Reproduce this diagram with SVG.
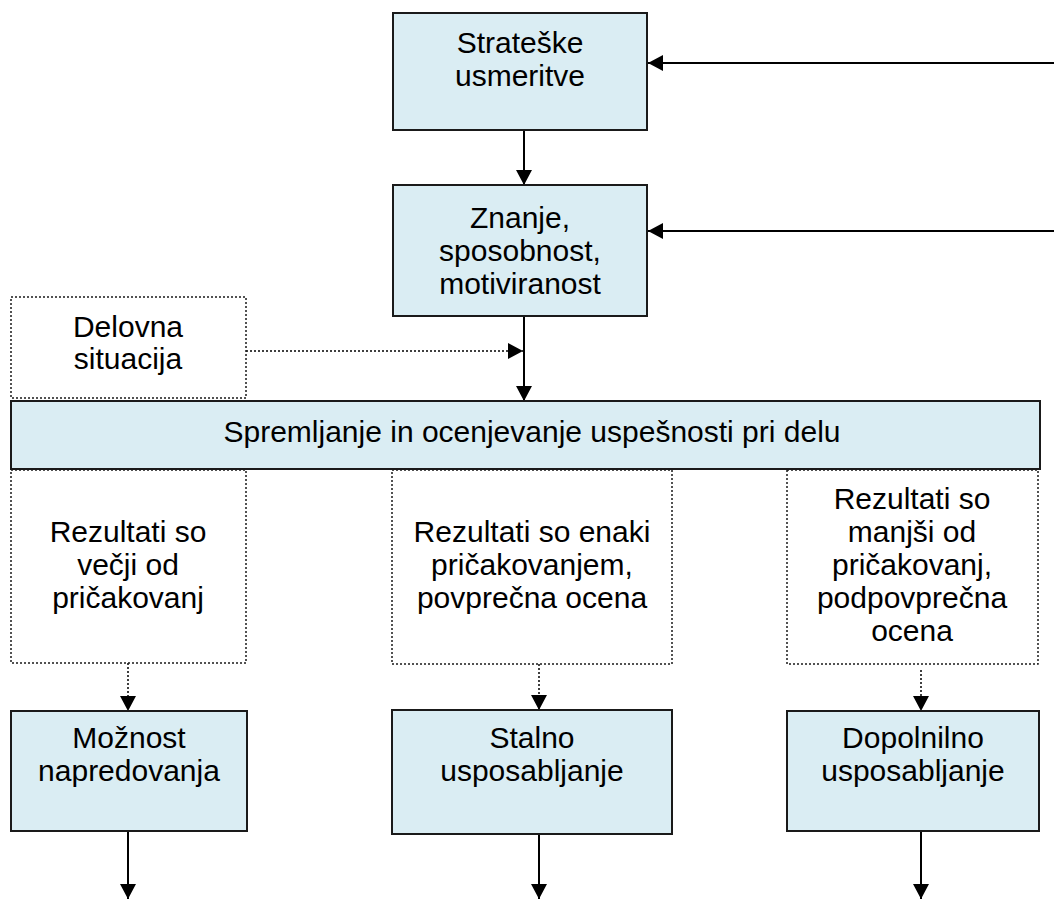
<svg xmlns="http://www.w3.org/2000/svg" width="1054" height="899" viewBox="0 0 1054 899">
<defs>
<marker id="ah" markerUnits="userSpaceOnUse" markerWidth="15" markerHeight="16" refX="15" refY="8" orient="auto">
<path d="M0,0 L15,8 L0,16 z" fill="#000"/>
</marker>
<style>
.box{fill:#daedf3;stroke:#1a1a1a;stroke-width:2}
.dbox{fill:none;stroke:#1a1a1a;stroke-width:1.5;stroke-dasharray:2,2}
.t{font-family:"Liberation Sans",Arial,sans-serif;font-size:30px;fill:#000;text-anchor:middle}
.c{stroke:#000;stroke-width:2;fill:none}
.d{stroke:#000;stroke-width:1.5;fill:none;stroke-dasharray:2,2}
</style>
</defs>
<rect width="1054" height="899" fill="#fff"/>
<g id="connectors">
<line class="c" x1="1054" y1="63" x2="648" y2="63" marker-end="url(#ah)"/>
<line class="c" x1="1054" y1="231" x2="648" y2="231" marker-end="url(#ah)"/>
<line class="c" x1="524" y1="130" x2="524" y2="185" marker-end="url(#ah)"/>
<line class="c" x1="524" y1="316" x2="524" y2="401" marker-end="url(#ah)"/>
<line class="d" x1="246" y1="351" x2="523" y2="351" marker-end="url(#ah)"/>
<line class="d" x1="128" y1="663" x2="128" y2="711" marker-end="url(#ah)"/>
<line class="d" x1="539" y1="664" x2="539" y2="710" marker-end="url(#ah)"/>
<line class="d" x1="921" y1="670" x2="921" y2="711" marker-end="url(#ah)"/>
<line class="c" x1="128" y1="831" x2="128" y2="899" marker-end="url(#ah)"/>
<line class="c" x1="539" y1="834" x2="539" y2="899" marker-end="url(#ah)"/>
<line class="c" x1="921" y1="831" x2="921" y2="899" marker-end="url(#ah)"/>
</g>
<g id="strateske">
<rect class="box" x="393" y="13" width="254" height="117"/>
<text class="t" x="520" y="53">Strateške</text>
<text class="t" x="520" y="86">usmeritve</text>
</g>
<g id="znanje">
<rect class="box" x="393" y="185" width="254" height="131"/>
<text class="t" x="520" y="228">Znanje,</text>
<text class="t" x="520" y="261">sposobnost,</text>
<text class="t" x="520" y="294">motiviranost</text>
</g>
<g id="delovna">
<rect class="dbox" x="11" y="297" width="235" height="101"/>
<text class="t" x="128" y="337">Delovna</text>
<text class="t" x="128" y="369">situacija</text>
</g>
<g id="spremljanje">
<rect class="box" x="11" y="401" width="1029" height="68"/>
<text class="t" x="532" y="442">Spremljanje in ocenjevanje uspešnosti pri delu</text>
</g>
<g id="rez1">
<rect class="dbox" x="11" y="470" width="235" height="193"/>
<text class="t" x="128" y="542">Rezultati so</text>
<text class="t" x="128" y="575">večji od</text>
<text class="t" x="128" y="608">pričakovanj</text>
</g>
<g id="rez2">
<rect class="dbox" x="392" y="470" width="280" height="194"/>
<text class="t" x="532" y="542">Rezultati so enaki</text>
<text class="t" x="532" y="575">pričakovanjem,</text>
<text class="t" x="532" y="608">povprečna ocena</text>
</g>
<g id="rez3">
<rect class="dbox" x="787" y="470" width="251" height="194"/>
<text class="t" x="912" y="509">Rezultati so</text>
<text class="t" x="912" y="542">manjši od</text>
<text class="t" x="912" y="575">pričakovanj,</text>
<text class="t" x="912" y="608">podpovprečna</text>
<text class="t" x="912" y="641">ocena</text>
</g>
<g id="moznost">
<rect class="box" x="11" y="711" width="236" height="120"/>
<text class="t" x="129" y="748">Možnost</text>
<text class="t" x="129" y="781">napredovanja</text>
</g>
<g id="stalno">
<rect class="box" x="392" y="710" width="280" height="124"/>
<text class="t" x="532" y="748">Stalno</text>
<text class="t" x="532" y="781">usposabljanje</text>
</g>
<g id="dopolnilno">
<rect class="box" x="787" y="711" width="252" height="120"/>
<text class="t" x="913" y="748">Dopolnilno</text>
<text class="t" x="913" y="781">usposabljanje</text>
</g>
</svg>
